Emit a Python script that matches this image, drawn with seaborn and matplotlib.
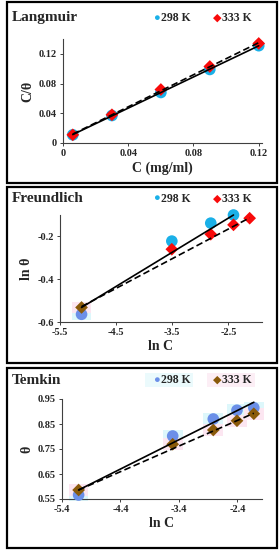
import numpy as np
import matplotlib
matplotlib.use("Agg")
import matplotlib.pyplot as plt
import seaborn as sns
import pandas as pd
from matplotlib.patches import Rectangle

# data
conc = [0.006, 0.03, 0.06, 0.09, 0.12]
lnc = [-5.116, -3.507, -2.813, -2.408, -2.120]

lang_298 = [0.011, 0.037, 0.068, 0.099, 0.131]
lang_333 = [0.011, 0.038, 0.072, 0.103, 0.134]

freu_298 = [-0.564, -0.222, -0.138, -0.100]   # no point at the last concentration
freu_333 = [-0.532, -0.260, -0.190, -0.146, -0.115]
# trend lines as drawn in the figure (end points)
freu_fit_298 = [-0.532, -0.100]
freu_fit_333 = [-0.528, -0.113]

temk_298 = [0.566, 0.802, 0.870, 0.905, 0.915]
temk_333 = [0.586, 0.769, 0.826, 0.863, 0.891]
temk_fit_298 = [0.586, 0.937]
temk_fit_333 = [0.586, 0.893]

sns.set_style("white")
plt.rcParams['font.family'] = ['Liberation Serif', 'DejaVu Serif']
plt.rcParams['font.weight'] = 'bold'

W, H = 279, 550
fig = plt.figure(figsize=(W / 100, H / 100), dpi=100)

blue = '#1AB0E8'
red = '#F80A0A'
blue2 = '#6B8FE8'
brown = '#8A5A0A'
rect = [(-1.7, -1), (1.7, -1), (1.7, 1), (-1.7, 1)]


def px_axes(left, right, top, bottom):
    return fig.add_axes([left / W, 1 - bottom / H, (right - left) / W, (bottom - top) / H])


def points(ax, x, y, c1, marker, s, z, shade=None):
    d = pd.DataFrame({'x': x, 'y': y})
    if shade is not None:
        sns.scatterplot(data=d, x='x', y='y', ax=ax, color=shade, marker=rect, s=200,
                        edgecolor='none', zorder=1, legend=False, clip_on=False)
    sns.scatterplot(data=d, x='x', y='y', ax=ax, color=c1, marker=marker, s=s,
                    edgecolor='none', zorder=z, legend=False, clip_on=False)


def fit(ax, x, y, ls):
    sns.lineplot(x=x, y=y, ax=ax, color='black', lw=1.2, ls=ls, zorder=5, clip_on=False)


def frame(ax, title, xlabel, ylabel, xlim, ylim, xticks, yticks, xfmt, yfmt, box, ty, c1, c2, shade=False):
    ax.set_xlim(*xlim)
    ax.set_ylim(*ylim)
    ax.set_xticks(xticks)
    ax.set_yticks(yticks)
    ax.set_xticklabels([xfmt(v) for v in xticks], fontsize=7.5, fontweight='bold')
    ax.set_yticklabels([yfmt(v) for v in yticks], fontsize=7.5, fontweight='bold')
    ax.set_xlabel(xlabel, fontsize=10, fontweight='bold', labelpad=2)
    ax.set_ylabel(ylabel, fontsize=10, fontweight='bold', labelpad=3)
    sns.despine(ax=ax)
    for s in ['left', 'bottom']:
        ax.spines[s].set_color('#404040')
        ax.spines[s].set_linewidth(0.8)
    ax.tick_params(axis='both', length=2.5, width=0.7, pad=2, direction='out',
                   bottom=True, left=True, color='#404040')

    l, r, t, b = box
    fig.patches.append(Rectangle((l / W, 1 - b / H), (r - l) / W, (b - t) / H,
                                 transform=fig.transFigure, fill=False, ec='black', lw=1.6))
    if shade:
        fig.patches.append(Rectangle((145 / W, 1 - (ty + 7) / H), 48 / W, 14 / H,
                                     transform=fig.transFigure, fc='#EBFAFC', ec='none'))
        fig.patches.append(Rectangle((207 / W, 1 - (ty + 7) / H), 48 / W, 14 / H,
                                     transform=fig.transFigure, fc='#FCEEF5', ec='none'))
    fig.text(12 / W, 1 - ty / H, title, fontsize=11, fontweight='bold', va='center', ha='left')
    fig.text(156 / W, 1 - ty / H, '\u25cf', color=c1, fontsize=8, va='center', ha='center')
    fig.text(161 / W, 1 - ty / H, '298 K', fontsize=8.5, fontweight='bold', va='center', ha='left')
    fig.text(217 / W, 1 - ty / H, '\u25c6', color=c2, fontsize=8, va='center', ha='center')
    fig.text(222 / W, 1 - ty / H, '333 K', fontsize=8.5, fontweight='bold', va='center', ha='left')


# Langmuir
ax1 = px_axes(63, 262, 39, 143)
points(ax1, conc, lang_298, blue, 'o', 70, 3)
points(ax1, conc, lang_333, red, 'D', 42, 4)
sns.regplot(x=conc, y=lang_298, ax=ax1, scatter=False, ci=None,
            line_kws={'color': 'black', 'lw': 1.2, 'ls': '-', 'zorder': 5})
sns.regplot(x=conc, y=lang_333, ax=ax1, scatter=False, ci=None,
            line_kws={'color': 'black', 'lw': 1.2, 'ls': (0, (4, 2)), 'zorder': 5})
frame(ax1, 'Langmuir', 'C (mg/ml)', 'C/\u03b8',
      (0, 0.122), (0, 0.14), [0, 0.04, 0.08, 0.12], [0, 0.04, 0.08, 0.12],
      lambda v: '0' if v == 0 else f'{v:.2f}', lambda v: '0' if v == 0 else f'{v:.2f}',
      (7, 277, 2, 183), 18, blue, red)

# Freundlich
ax2 = px_axes(60, 262, 215, 322)
points(ax2, lnc[:1], freu_298[:1], blue2, 'o', 70, 3, shade='#DDF7FB')
points(ax2, lnc[1:4], freu_298[1:], blue, 'o', 70, 3)
points(ax2, lnc[:1], freu_333[:1], brown, 'D', 42, 4, shade='#FCE6F1')
points(ax2, lnc[1:], freu_333[1:], red, 'D', 42, 4)
fit(ax2, [lnc[0], lnc[3]], freu_fit_298, '-')
fit(ax2, [lnc[0], lnc[4]], freu_fit_333, (0, (4, 2)))
frame(ax2, 'Freundlich', 'ln C', 'ln \u03b8',
      (-5.5, -1.9), (-0.6, -0.1), [-5.5, -4.5, -3.5, -2.5], [-0.6, -0.4, -0.2],
      lambda v: f'{v:.1f}', lambda v: f'{v:.1f}',
      (7, 277, 187, 363), 199, blue, red)

# Temkin
ax3 = px_axes(62, 262, 399, 499)
points(ax3, lnc, temk_298, blue2, 'o', 70, 3, shade='#DDF7FB')
points(ax3, lnc, temk_333, brown, 'D', 42, 4, shade='#FCE6F1')
fit(ax3, [lnc[0], lnc[4]], temk_fit_298, '-')
fit(ax3, [lnc[0], lnc[4]], temk_fit_333, (0, (4, 2)))
frame(ax3, 'Temkin', 'ln C', '\u03b8',
      (-5.4, -1.98), (0.55, 0.95), [-5.4, -4.4, -3.4, -2.4], [0.55, 0.65, 0.75, 0.85, 0.95],
      lambda v: f'{v:.1f}', lambda v: f'{v:.2f}',
      (7, 277, 368, 548), 380, blue2, brown, shade=True)

fig.savefig('out.png', dpi=100)
